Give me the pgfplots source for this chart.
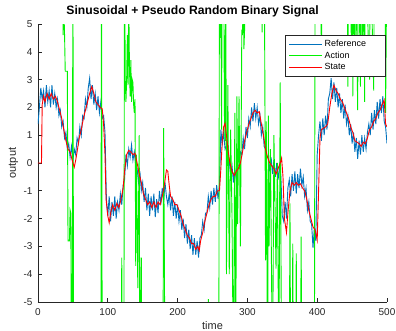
\documentclass[border=0pt]{standalone}
\usepackage{fontspec}
\setmainfont{Liberation Sans}
\usepackage{pgfplots}
\pgfplotsset{compat=1.18}
\definecolor{mblue}{rgb}{0,0.447,0.741}
\definecolor{mgreen}{rgb}{0,0.95,0}
\definecolor{mred}{rgb}{1,0,0}
\definecolor{axgray}{gray}{0.15}
\begin{document}
\begin{tikzpicture}
\begin{axis}[
  scale only axis, width=349bp, height=278bp,
  xmin=0, xmax=500, ymin=-5, ymax=5,
  axis x line*=bottom, axis y line*=left,
  axis line style={-, draw=axgray, line width=0.6bp},
  tick align=inside, major tick length=4bp,
  tick style={draw=axgray, line width=0.6bp},
  xtick={0,100,...,500}, ytick={-5,-4,...,5},
  /pgf/number format/assume math mode=true,
  ticklabel style={font=\fontsize{10}{12}\selectfont, text=axgray},
  xticklabel style={yshift=-3bp},
  yticklabel style={xshift=-2bp},
  xlabel={time}, ylabel={output},
  label style={font=\fontsize{11}{13}\selectfont, text=axgray},
  xlabel style={at={(axis description cs:0.5,0)}, anchor=base, yshift=-28bp},
  ylabel style={at={(axis description cs:0,0.5)}, anchor=base, yshift=22bp},
  title={Sinusoidal + Pseudo Random Binary Signal},
  title style={font=\fontsize{12.2}{14}\selectfont\bfseries, at={(rel axis cs:0.443,1)}, anchor=base, yshift=4bp},
  legend style={at={(rel axis cs:0.997,0.96)}, anchor=north east, draw=axgray, line width=0.6bp,
    font=\fontsize{9}{10}\selectfont, inner ysep=3bp, inner xsep=3bp,
    nodes={inner sep=2bp, text height=6.5bp, text depth=1bp}},
  legend cell align=left,
  legend image code/.code={\draw[#1, line width=0.9bp] (0bp,0bp) -- (33bp,0bp);},
]
\addplot[color=mblue, line width=0.9bp] table {
0 1.4
2 2.0
4 2.7
6 2.3
8 2.6
10 2.0
12 2.8
14 2.2
16 2.6
18 2.0
20 2.8
22 2.1
24 2.5
26 2.0
28 2.3
30 1.7
32 1.9
34 1.3
36 1.5
38 0.9
40 1.1
42 0.5
44 0.7
46 0.2
48 0.6
50 0.1
52 0.5
54 0.3
56 0.9
58 0.7
60 1.3
62 1.0
64 1.7
66 1.6
68 2.3
70 2.0
72 2.7
74 3.05
76 2.3
78 2.8
80 2.1
82 2.5
84 1.9
86 2.4
88 1.8
90 2.2
92 1.6
94 1.7
96 1.1
98 -1.3
100 -1.9
102 -1.2
104 -2.1
106 -1.4
108 -1.9
110 -1.2
112 -2.0
114 -1.4
116 -1.7
118 -1.1
120 -1.5
122 -0.8
124 -0.6
126 0.3
128 -0.1
130 0.5
132 0.2
134 0.65
136 0.1
138 0.4
140 -0.1
142 -0.2
144 -0.7
146 -0.3
148 -1.0
150 -0.7
152 -1.4
154 -0.9
156 -1.7
158 -1.1
160 -1.9
162 -1.2
164 -1.7
166 -1.1
168 -1.95
170 -1.3
172 -1.8
174 -1.0
176 -1.5
178 -0.9
180 -1.4
182 -0.7
184 -1.2
186 -1.5
188 -1.1
190 -1.7
192 -1.2
194 -1.9
196 -1.4
198 -2.0
200 -1.5
202 -2.1
204 -1.7
206 -2.4
208 -2.0
210 -2.7
212 -2.2
214 -2.9
216 -2.4
218 -3.1
220 -2.6
222 -3.3
224 -2.7
226 -3.3
228 -2.8
230 -3.4
232 -2.7
234 -2.6
236 -2.1
238 -2.4
240 -1.8
242 -1.8
244 -1.2
246 -1.6
248 -1.0
250 -1.5
252 -0.9
254 -1.4
256 -0.8
258 -1.3
260 -0.8
262 1.2
264 0.7
266 1.1
268 0.5
270 0.6
272 0.0
274 0.1
276 -0.5
278 -0.1
280 -0.7
282 -0.2
284 -0.6
286 -0.1
288 -0.1
290 0.4
292 0.3
294 0.9
296 0.5
298 1.3
300 0.9
302 1.6
304 1.3
306 2.0
308 1.5
310 2.15
312 1.6
314 2.0
316 1.4
318 1.7
320 1.0
322 1.3
324 0.6
326 0.5
328 0.2
330 0.2
332 -0.3
334 0.2
336 -0.4
338 0.1
340 -0.5
342 0.0
344 -0.6
346 -0.1
348 -0.5
350 -1.9
352 -2.1
354 -1.4
356 -2.0
358 -0.9
360 -0.6
362 -1.2
364 -0.4
366 -1.0
368 -0.3
370 -1.1
372 -0.4
374 -0.9
376 -0.2
378 -0.8
380 -0.5
382 -1.2
384 -0.9
386 -1.7
388 -1.4
390 -2.1
392 -2.2
394 -3.05
396 -2.3
398 -2.8
400 0.3
402 1.0
404 1.5
406 0.8
408 1.6
410 1.0
412 1.7
414 1.2
416 2.3
418 2.5
420 3.05
422 2.3
424 2.9
426 2.2
428 2.7
430 2.0
432 2.5
434 1.8
436 2.3
438 1.6
440 2.1
442 1.4
444 1.7
446 1.0
448 1.4
450 0.7
452 1.1
454 0.4
456 0.9
458 0.15
460 0.8
462 0.3
464 1.0
466 0.4
468 0.9
470 0.5
472 1.1
474 1.4
476 1.0
478 1.8
480 1.2
482 1.9
484 1.4
486 2.2
488 1.6
490 2.3
492 1.8
494 2.4
496 1.5
498 1.3
500 0.7
};
\addlegendentry{\makebox[56bp][l]{Reference}}
\addplot[color=mgreen, line width=0.9bp] table {
0 8
35 8
36 4.6
37 5.5
38 4.7
39 3.3
42 3.3
43 -2.8
45 -2.8
46 -1.7
47 -1.8
48 -8
49 -8
50 8
51 -8
90 -8
91 8
92 -8
119 -8
120 -3.4
121 -8
123 -8
124 8
125 3.0
126 2.2
127 3.0
128 4.6
129 2.8
130 6
131 3.5
132 2.4
133 3.7
134 2.2
135 3.0
136 2.9
137 2.1
138 1.8
139 2.3
140 -3.7
141 0.3
143 -4.5
145 1.0
146 -8
148 -3.4
149 -8
179 -8
180 1.25
182 -8
243 -8
244 -4.9
245 -8
259 -8
260 8
261 4.5
262 6
263 1.2
264 8
266 8
267 1.8
268 0.8
269 8
270 -4.0
272 2.8
274 -4.0
276 1.2
278 -2.0
280 -8
282 1.8
283 -8
285 2.4
286 -2.2
288 2.4
290 -3.0
292 4.8
293 4.6
294 6
295 4.1
296 4.8
297 6
320 8
321 4.7
322 8
324 8
325 3.0
326 -3.5
327 1.5
329 -8
330 1.7
331 -3.0
333 0.5
336 -8
338 1.0
341 -3.8
343 0.0
345 -8
347 2.9
349 -8
360 -8
361 -1.45
362 -8
364 -8
365 -2.9
366 -8
369 -8
370 -3.25
371 -8
376 -8
377 -2.65
378 -8
396 -8
397 8
405 8
406 3.4
407 8
443 8
444 2.75
445 8
448 8
449 3.35
450 8
451 2.4
452 8
454 3.1
455 8
458 1.9
459 8
462 2.75
463 8
465 3.1
466 8
468 2.2
469 8
475 3.0
476 8
481 2.6
482 8
497 8
498 1.8
500 8
};
\addlegendentry{\makebox[56bp][l]{Action}}
\addplot[color=mred, line width=0.9bp] table {
0 0
5 0
6 2.1
8 2.4
10 2.2
13 2.5
16 2.3
19 2.5
22 2.3
25 2.4
28 2.2
31 1.9
34 1.6
37 1.2
40 0.8
43 0.5
46 0.4
49 0.1
52 -0.15
54 0.1
56 0.4
59 0.9
62 1.2
65 1.6
68 1.9
71 2.2
74 2.5
77 2.75
80 2.5
83 2.2
86 2.1
89 2.0
92 1.95
94 1.4
96 0.3
97.5 -1.3
100 -1.9
102 -2.15
104 -1.8
107 -1.5
110 -1.7
113 -1.45
116 -1.6
119 -1.3
122 -0.9
124 -0.3
127 0.3
130 0.45
133 0.4
136 0.3
139 0.35
142 0.0
145 -0.4
148 -0.7
151 -1.1
154 -1.3
157 -1.5
160 -1.4
163 -1.6
166 -1.4
169 -1.6
172 -1.4
175 -1.5
178 -1.2
181 -0.8
184 -0.25
186 -0.3
188 -0.8
190 -1.2
193 -1.3
196 -1.5
199 -1.5
202 -1.7
205 -1.9
208 -2.2
211 -2.4
214 -2.6
217 -2.7
220 -2.9
223 -2.9
226 -3.1
229 -3.0
231 -3.15
233 -2.8
236 -2.5
239 -2.1
242 -1.8
245 -1.5
248 -1.3
251 -1.2
254 -1.2
257 -1.0
260 -1.0
262 -0.2
264 0.8
266 1.3
268 1.43
270 1.0
272 0.5
275 0.0
278 -0.3
281 -0.45
284 -0.3
287 -0.2
290 0.0
293 0.4
296 0.8
299 1.1
302 1.4
305 1.6
308 1.8
311 1.9
314 1.8
317 1.85
320 1.4
323 1.0
326 0.5
329 0.2
332 0.0
335 -0.1
338 -0.2
341 -0.4
344 -0.2
347 0.0
349 0.18
351 -0.5
353 -2.0
356 -2.5
358 -1.8
361 -1.0
364 -0.7
367 -0.8
370 -0.7
373 -0.8
376 -0.75
379 -0.9
382 -1.0
385 -1.3
388 -1.7
391 -2.0
394 -2.3
397 -2.4
400 -2.77
402 -1.0
404 0.9
406 1.2
409 1.25
412 1.3
415 1.4
418 2.0
421 2.5
424 2.8
427 2.6
430 2.5
433 2.3
436 2.2
439 2.0
442 1.8
445 1.6
448 1.3
451 1.1
454 0.8
457 0.75
460 0.7
463 0.6
466 0.75
469 0.7
472 0.9
475 1.2
478 1.3
481 1.5
484 1.6
487 1.8
490 1.9
493 2.1
496 2.27
498 1.4
500 1.3
};
\addlegendentry{\makebox[56bp][l]{State}}
\end{axis}
\pgfresetboundingbox
\path (current axis.south west) ++(-38bp,-29bp) rectangle ++(396bp,331bp);
\end{tikzpicture}
\end{document}
